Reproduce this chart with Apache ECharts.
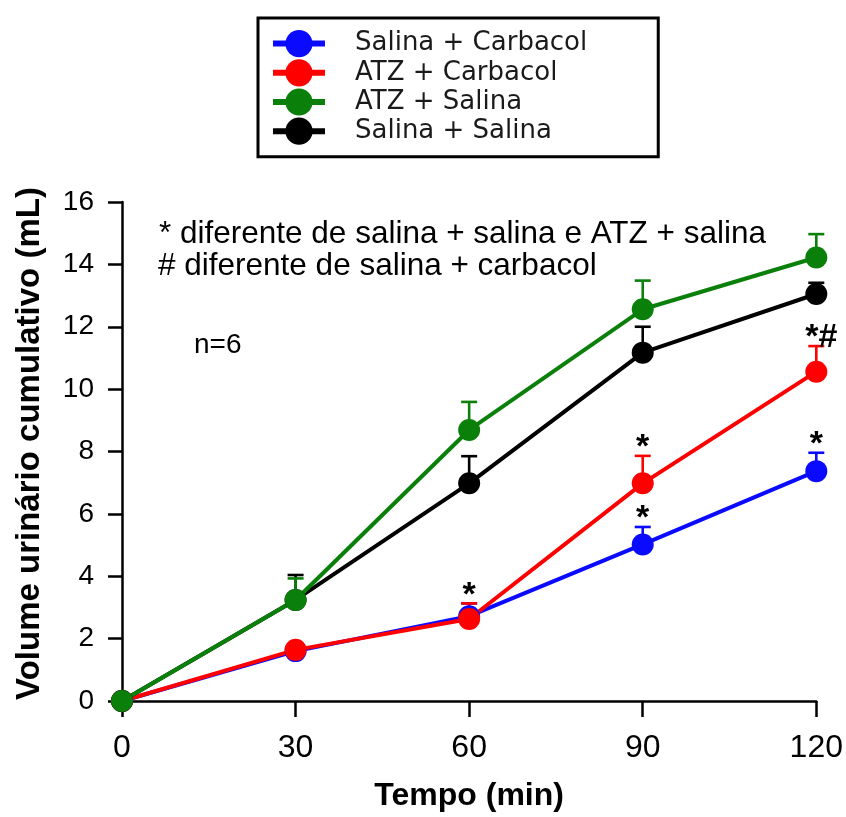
<!DOCTYPE html>
<html>
<head>
<meta charset="utf-8">
<script src="https://cdn.jsdelivr.net/npm/echarts@6/dist/echarts.min.js"></script>
<style>
html,body{margin:0;padding:0;background:#fff;}
#chart{width:846px;height:817px;}
</style>
</head>
<body>
<div id="chart"></div>
<script>
// ---- data ----
const times = [0, 30, 60, 90, 120];
const xTicks = [0, 30, 60, 90, 120];
const yTicks = [0, 2, 4, 6, 8, 10, 12, 14, 16];

const seriesNames = ['Salina + Carbacol', 'ATZ + Carbacol', 'ATZ + Salina', 'Salina + Salina'];

const salCarbMean = [0, 1.60, 2.72, 5.02, 7.37];
const salCarbSem  = [0, 0, 0.41, 0.56, 0.59];
const salCarbSig  = ['', '', '', '*', '*'];

const atzCarbMean = [0, 1.64, 2.63, 6.98, 10.56];
const atzCarbSem  = [0, 0, 0.50, 0.88, 0.82];
const atzCarbSig  = ['', '', '*', '*', '*#'];

const atzSalMean = [0, 3.24, 8.69, 12.56, 14.22];
const atzSalSem  = [0, 0.69, 0.90, 0.92, 0.75];

const salSalMean = [0, 3.24, 6.98, 11.17, 13.05];
const salSalSem  = [0, 0.80, 0.87, 0.83, 0.36];

const note1 = '* diferente de salina + salina e ATZ + salina';
const note2 = '# diferente de salina + carbacol';
const note3 = 'n=6';

// ---- styling ----
const FONT = "'Liberation Sans', Arial, sans-serif";
const colors = {blue: '#0a0aff', red: '#ff0000', green: '#0a800a', black: '#000000'};

function lineSeries(name, mean, color, z) {
  return {
    type: 'line', name: name, z: z,
    data: times.map((t, i) => [t, mean[i]]),
    symbol: 'circle', symbolSize: 22,
    lineStyle: {color: color, width: 4},
    itemStyle: {color: color},
    emphasis: {disabled: true},
    animation: false
  };
}

function errSeries(key, mean, sem, color, z) {
  return {
    type: 'custom', name: key + ' SEM', z: z,
    data: times.map((t, i) => [t, mean[i], sem[i]]),
    encode: {x: 0, y: 1},
    renderItem: function (params, api) {
      const x = api.value(0), m = api.value(1), s = api.value(2);
      if (!s) return null;
      const p0 = api.coord([x, m]);
      const p1 = api.coord([x, m + s]);
      const hw = 8;
      return {
        type: 'group',
        children: [
          {type: 'line', shape: {x1: p0[0], y1: p0[1], x2: p1[0], y2: p1[1]}, style: {stroke: color, lineWidth: 2.6}},
          {type: 'line', shape: {x1: p1[0] - hw, y1: p1[1], x2: p1[0] + hw, y2: p1[1]}, style: {stroke: color, lineWidth: 2.6}}
        ]
      };
    },
    silent: true,
    animation: false
  };
}

function sigSeries(key, mean, sem, sig) {
  const data = [];
  times.forEach((t, i) => {
    if (sig[i]) data.push({value: [t, mean[i] + sem[i]], name: sig[i]});
  });
  return {
    type: 'custom', name: key + ' sig', z: 10,
    data: data,
    encode: {x: 0, y: 1},
    renderItem: function (params, api) {
      const p = api.coord([api.value(0), api.value(1)]);
      const txt = data[params.dataIndex].name;
      return {
        type: 'text', x: p[0] + (txt.length > 1 ? 5 : 0), y: p[1] + 9,
        style: {text: txt, fill: '#000', font: 'bold 34px ' + FONT, align: 'center', verticalAlign: 'bottom'}
      };
    },
    silent: true, animation: false
  };
}

const chart = echarts.init(document.getElementById('chart'), null, {renderer: 'canvas'});

const option = {
  backgroundColor: '#ffffff',
  animation: false,
  grid: {left: 122, right: 29, top: 202, bottom: 116, containLabel: false},
  legend: {
    data: seriesNames,
    orient: 'vertical',
    left: 258, top: 18,
    padding: [12, 71, 12, 12],
    itemWidth: 52, itemHeight: 34, itemGap: 2,
    borderColor: '#000', borderWidth: 3,
    lineStyle: {width: 6},
    selectedMode: false,
    textStyle: {fontFamily: "'DejaVu Sans', sans-serif", fontSize: 26, color: '#1a1a1a', padding: [0, 0, 0, 25], lineHeight: 26}
  },
  xAxis: {
    type: 'value', min: 0, max: 120, interval: 30,
    name: 'Tempo (min)', nameLocation: 'middle', nameGap: 79,
    nameTextStyle: {fontFamily: FONT, fontSize: 32, fontWeight: 'bold', color: '#000'},
    axisLine: {show: true, onZero: false, lineStyle: {color: '#000', width: 2.5}},
    axisTick: {show: true, length: 16, lineStyle: {color: '#000', width: 2.5}},
    axisLabel: {fontFamily: FONT, fontSize: 32, color: '#000', margin: 31,
      formatter: v => (xTicks.indexOf(v) >= 0 ? String(v) : '')},
    splitLine: {show: false}
  },
  yAxis: {
    type: 'value', min: 0, max: 16, interval: 2,
    name: 'Volume urinário cumulativo (mL)', nameLocation: 'middle', nameGap: 76,
    nameTextStyle: {fontFamily: FONT, fontSize: 33, fontWeight: 'bold', color: '#000', padding: [0, 0, 0, 16]},
    axisLine: {show: true, lineStyle: {color: '#000', width: 2.5}},
    axisTick: {show: true, length: 14, lineStyle: {color: '#000', width: 2.5}},
    axisLabel: {fontFamily: FONT, fontSize: 28, color: '#000', margin: 28,
      formatter: v => (yTicks.indexOf(v) >= 0 ? String(v) : '')},
    splitLine: {show: false}
  },
  graphic: [
    {type: 'text', left: 159, top: 218, style: {text: note1, font: '31.5px ' + FONT, fill: '#000'}},
    {type: 'text', left: 158, top: 250, style: {text: note2, font: '31.5px ' + FONT, fill: '#000'}},
    {type: 'text', left: 194, top: 331, style: {text: note3, font: '28px ' + FONT, fill: '#000'}}
  ],
  series: [
    errSeries('blue', salCarbMean, salCarbSem, colors.blue, 1),
    errSeries('red', atzCarbMean, atzCarbSem, colors.red, 1),
    errSeries('black', salSalMean, salSalSem, colors.black, 1),
    errSeries('green', atzSalMean, atzSalSem, colors.green, 1),
    lineSeries(seriesNames[0], salCarbMean, colors.blue, 2),
    lineSeries(seriesNames[1], atzCarbMean, colors.red, 2),
    lineSeries(seriesNames[3], salSalMean, colors.black, 2),
    lineSeries(seriesNames[2], atzSalMean, colors.green, 2),
    sigSeries('blue', salCarbMean, salCarbSem, salCarbSig),
    sigSeries('red', atzCarbMean, atzCarbSem, atzCarbSig)
  ]
};
chart.setOption(option);
</script>
</body>
</html>
